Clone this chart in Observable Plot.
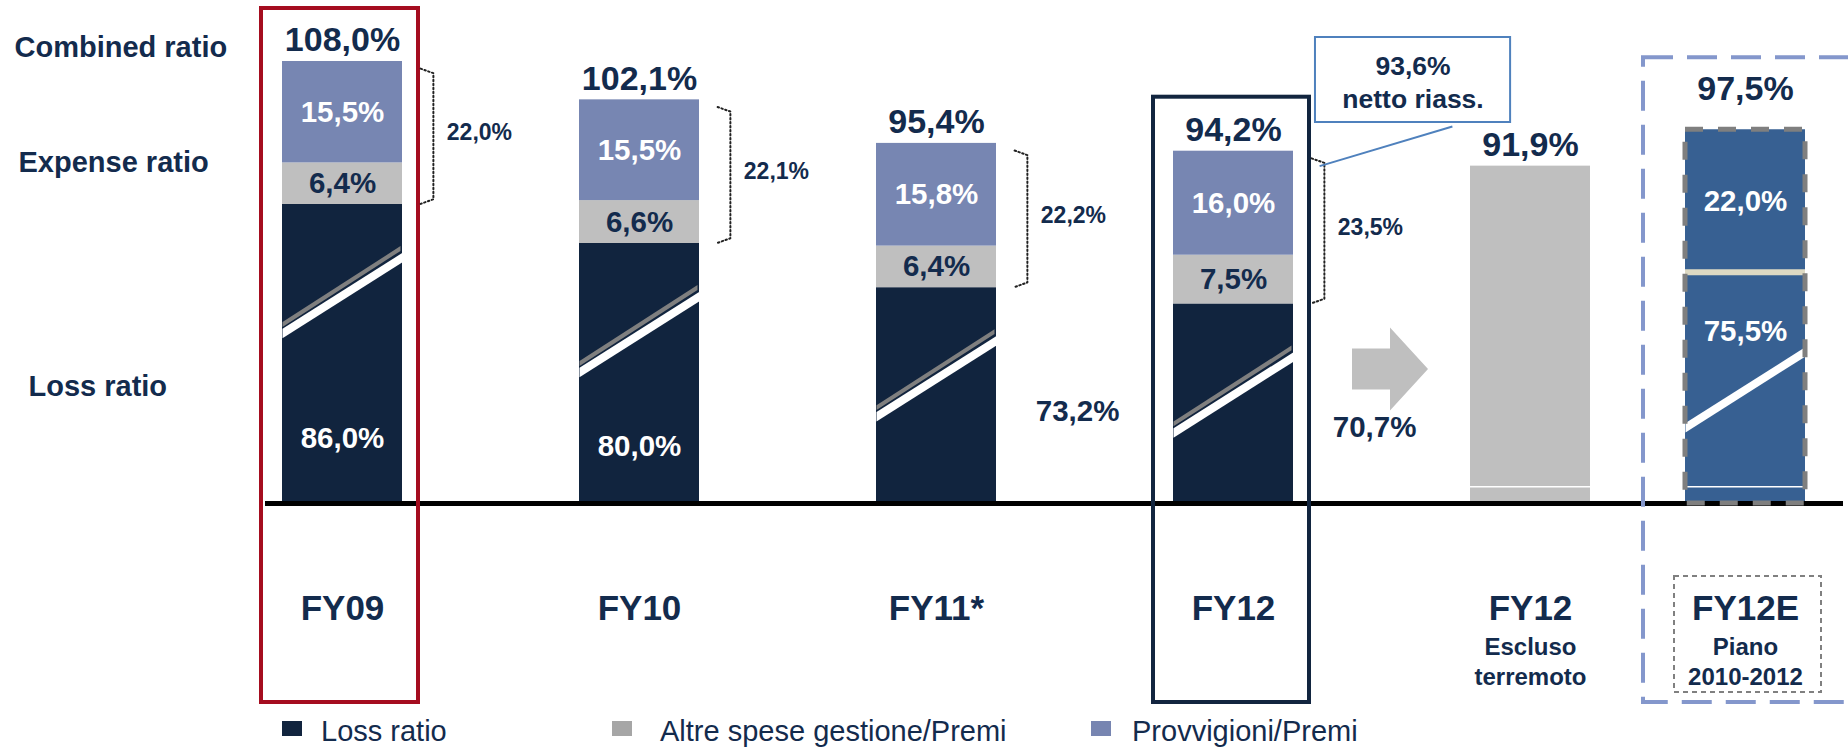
<!DOCTYPE html>
<html>
<head>
<meta charset="utf-8">
<script src="https://cdn.jsdelivr.net/npm/d3@7"></script>
<script src="https://cdn.jsdelivr.net/npm/@observablehq/plot@0.6"></script>
<style>
  html, body { margin: 0; padding: 0; background: #fff; overflow: hidden; }
  #chart { width: 1848px; height: 748px; position: relative; font-family: "Liberation Sans", Arial, sans-serif; }
  #chart svg { display: block; }
  .legend { position: relative; width: 1848px; height: 34px; }
  .legend .sw { position: absolute; top: 7px; width: 20px; height: 15px; }
  .legend .lb { position: absolute; top: 3px; font-size: 29px; line-height: 29px; color: #132b4d; white-space: nowrap; }
</style>
</head>
<body>
<div id="chart"></div>
<script>
// ---------------- data ----------------
const categories    = ["FY09", "FY10", "FY11*", "FY12", "FY12", "FY12E"];
const subtitles     = ["", "", "", "", "Escluso\nterremoto", "Piano\n2010-2012"];
const lossRatio     = [86.0, 80.0, 73.2, 70.7, null, 75.5];
const altreSpese    = [6.4, 6.6, 6.4, 7.5, null, null];
const provvigioni   = [15.5, 15.5, 15.8, 16.0, null, null];
const expenseRatio  = [22.0, 22.1, 22.2, 23.5, null, 22.0];
const combinedRatio = [108.0, 102.1, 95.4, 94.2, 91.9, 97.5];
const nettoRiass    = 93.6;
const rowLabels     = ["Combined ratio", "Expense ratio", "Loss ratio"];
const seriesNames   = ["Loss ratio", "Altre spese gestione/Premi", "Provvigioni/Premi", "Escluso terremoto", "Piano 2010-2012"];

// ---------------- styles ----------------
const NAVY = "#11243e", GRAYBAR = "#bfbfbf", LAV = "#7786b2", PLAN = "#376092", TXT = "#132b4d";
const seriesColors = [NAVY, GRAYBAR, LAV, GRAYBAR, PLAN];
const legendColors = [NAVY, "#a6a6a6", "#7785b1"];
const FONT = "Liberation Sans, Arial, sans-serif";
const HALFPX = 60; // half bar width in pixels
const fmt = v => v.toFixed(1).replace(".", ",") + "%";

const rows = categories.map((c, i) => ({
  i, cat: c, sub: subtitles[i], loss: lossRatio[i], altre: altreSpese[i],
  prov: provvigioni[i], exp: expenseRatio[i], comb: combinedRatio[i]
}));
const stacked = rows.filter(r => r.altre != null);
const plan = rows.filter(r => r.altre == null && r.loss != null);
const noLoss = rows.filter(r => r.loss == null);

const segs = [];
for (const r of stacked) {
  segs.push({i: r.i, y1: 0, y2: r.loss, series: seriesNames[0]});
  segs.push({i: r.i, y1: r.loss, y2: r.loss + r.altre, series: seriesNames[1]});
  segs.push({i: r.i, y1: r.loss + r.altre, y2: r.comb, series: seriesNames[2]});
}
for (const r of noLoss) segs.push({i: r.i, y1: 0, y2: r.comb, series: seriesNames[3]});
for (const r of plan) {
  segs.push({i: r.i, y1: 0, y2: r.loss, series: seriesNames[4]});
  segs.push({i: r.i, y1: r.loss, y2: r.comb, series: seriesNames[4]});
}

// dotted brackets over the expense part
const brackets = [];
for (const r of stacked) {
  brackets.push({i: r.i, x: r.i + 0.263, y: r.comb - 1.1});
  brackets.push({i: r.i, x: r.i + 0.306, y: r.comb - 1.8});
  brackets.push({i: r.i, x: r.i + 0.306, y: r.loss + 0.8});
  brackets.push({i: r.i, x: r.i + 0.263, y: r.loss + 0.1});
}

// custom symbols (pixel geometry)
const arrowSymbol = {draw(c) {
  c.moveTo(-30, -20.5); c.lineTo(8, -20.5); c.lineTo(8, -41.5); c.lineTo(46, 0);
  c.lineTo(8, 41.5); c.lineTo(8, 20.5); c.lineTo(-30, 20.5); c.closePath();
}};
const whiteSlash = {draw(c) {
  c.moveTo(-60, 33.3); c.lineTo(60, -42.7); c.lineTo(60, -33.3); c.lineTo(-60, 42.7); c.closePath();
}};
const graySlash = {draw(c) {
  c.moveTo(-60, 26.6); c.lineTo(58, -49.4); c.lineTo(58, -44.6); c.lineTo(-60, 31.4); c.closePath();
}};

const bar = {x1: "i", x2: "i", insetLeft: -HALFPX, insetRight: -HALFPX};
const bold = {fontFamily: FONT, fontWeight: "bold"};
const fy09 = rows[0], fy12 = rows[3];

const chart = Plot.plot({
  width: 1848,
  height: 714,
  marginLeft: 265,
  marginRight: 5,
  marginTop: 0,
  marginBottom: 211,
  x: {type: "linear", domain: [0, 4, 5], range: [342, 1530, 1745], axis: null},
  y: {type: "linear", domain: [0, 50, 110], range: [503, 438, 48], axis: null},
  color: {domain: seriesNames, range: seriesColors},
  style: {fontFamily: FONT, background: "white", overflow: "visible"},
  marks: [
    // bars
    Plot.rect(segs, {...bar, y1: "y1", y2: "y2", fill: "series"}),
    Plot.rect(plan, {...bar, y1: "loss", y2: "loss", insetTop: -3, insetBottom: -3, fill: "#ddd9c3"}),
    Plot.rect(rows.filter(r => r.altre == null), {...bar, y1: 0, y2: 0, insetTop: -17, insetBottom: 15.5, fill: "white"}),
    // axis breaks
    Plot.dot(stacked, {x: "i", y: d => d.loss - 14, symbol: graySlash, r: 10, fill: "#7f7f7f", stroke: "none"}),
    Plot.dot(stacked, {x: "i", y: d => d.loss - 14, symbol: whiteSlash, r: 10, fill: "white", stroke: "none"}),
    Plot.dot(plan, {x: "i", y: d => d.loss - 18, symbol: whiteSlash, r: 10, fill: "white", stroke: "none"}),
    // baseline
    Plot.ruleY([0], {stroke: "black", strokeWidth: 5}),
    // plan bar dashed border
    Plot.rect(plan, {...bar, y1: 0, y2: "comb", fill: "none", stroke: "#7f7f7f", strokeWidth: 5, strokeDasharray: "18,15"}),
    // highlight boxes
    Plot.rect([fy09], {x1: "i", x2: "i", y1: 0, y2: "comb", insetLeft: -81, insetRight: -76, insetTop: -53, insetBottom: -199, fill: "none", stroke: "#a50d1f", strokeWidth: 4}),
    Plot.rect([fy12], {x1: "i", x2: "i", y1: 0, y2: "comb", insetLeft: -80, insetRight: -76, insetTop: -54, insetBottom: -199, fill: "none", stroke: "#12253f", strokeWidth: 4}),
    Plot.rect(plan, {x1: "i", x2: "i", y1: 0, y2: "comb", insetLeft: -102, insetRight: -160, insetTop: -72, insetBottom: -199, fill: "none", stroke: "#8497cc", strokeWidth: 4, strokeDasharray: "30,14"}),
    Plot.rect(plan, {x1: "i", x2: "i", y1: 0, y2: 0, insetLeft: -71, insetRight: -76, insetTop: 73, insetBottom: -189, fill: "none", stroke: "#808080", strokeWidth: 2, strokeDasharray: "5,4"}),
    // brackets
    Plot.line(brackets, {x: "x", y: "y", z: "i", stroke: "#222", strokeWidth: 2, strokeDasharray: "1.5,2.5"}),
    // arrow
    Plot.dot([fy12], {x: d => d.i + 0.5, y: d => d.loss - 10, symbol: arrowSymbol, r: 10, fill: GRAYBAR, stroke: "none"}),
    // callout
    Plot.rect([fy12], {x1: d => d.i + 0.276, x2: d => d.i + 0.933, insetTop: 37, insetBottom: 381, fill: "white", stroke: "#4f81bd", strokeWidth: 2}),
    Plot.text([fy12], {x: d => d.i + 0.6045, frameAnchor: "top", lineAnchor: "middle", dy: 80, text: () => fmt(nettoRiass) + "\nnetto riass.", lineHeight: 1.25, fontSize: 26.5, fill: TXT, ...bold}),
    Plot.link([fy12], {x1: d => d.i + 0.29, y1: d => d.comb - 2.3, x2: d => d.i + 0.737, y2: d => d.comb + 3.8, stroke: "#4f81bd", strokeWidth: 2}),
    // combined labels
    Plot.text(rows.filter(r => r.altre != null || r.loss == null), {x: "i", y: "comb", text: d => fmt(d.comb), dy: -21, fontSize: 34, fill: TXT, ...bold}),
    Plot.text(plan, {x: "i", y: "comb", text: d => fmt(d.comb), dy: -41, fontSize: 34, fill: TXT, ...bold}),
    // segment labels
    Plot.text(stacked, {x: "i", y: d => d.loss + d.altre + d.prov / 2, text: d => fmt(d.prov), fontSize: 29.5, fill: "white", ...bold}),
    Plot.text(stacked, {x: "i", y: d => d.loss + d.altre / 2, text: d => fmt(d.altre), fontSize: 29.5, fill: TXT, ...bold}),
    Plot.text(stacked.filter(r => r.loss >= 80), {x: "i", y: d => d.loss - 36, text: d => fmt(d.loss), fontSize: 29.5, fill: "white", ...bold}),
    Plot.text(stacked.filter(r => r.loss < 80), {x: d => d.i + 0.475, y: d => d.loss - 19, text: d => fmt(d.loss), fontSize: 29.5, fill: TXT, ...bold}),
    Plot.text(plan, {x: "i", y: d => (d.loss + d.comb) / 2, text: d => fmt(d.exp), fontSize: 29.5, fill: "white", ...bold}),
    Plot.text(plan, {x: "i", y: d => d.loss - 9, text: d => fmt(d.loss), fontSize: 29.5, fill: "white", ...bold}),
    // expense ratio labels next to brackets
    Plot.text(stacked, {x: d => d.i + 0.461, y: d => (d.loss + d.comb) / 2, text: d => fmt(d.exp), fontSize: 23, fill: TXT, ...bold}),
    // category labels
    Plot.text(rows, {x: "i", frameAnchor: "bottom", lineAnchor: "middle", dy: 105, text: "cat", fontSize: 35, fill: TXT, ...bold}),
    Plot.text(rows.filter(r => r.sub), {x: "i", frameAnchor: "bottom", lineAnchor: "middle", dy: 157, text: "sub", lineHeight: 1.27, fontSize: 24, fill: TXT, ...bold}),
    // row labels
    Plot.text([fy09], {frameAnchor: "left", y: "comb", dy: -14, dx: -251, textAnchor: "start", text: () => rowLabels[0], fontSize: 29, fill: TXT, ...bold}),
    Plot.text([fy09], {frameAnchor: "left", y: d => d.loss + d.altre, dx: -247, textAnchor: "start", text: () => rowLabels[1], fontSize: 29, fill: TXT, ...bold}),
    Plot.text([fy09], {frameAnchor: "left", y: d => d.loss - 28, dx: -237, textAnchor: "start", text: () => rowLabels[2], fontSize: 29, fill: TXT, ...bold})
  ]
});

const root = document.getElementById("chart");
root.appendChild(chart);

// legend
const legend = document.createElement("div");
legend.className = "legend";
const swX = [282, 612, 1091], lbX = [321, 660, 1132];
seriesNames.slice(0, 3).forEach((name, k) => {
  const sw = document.createElement("div");
  sw.className = "sw"; sw.style.left = swX[k] + "px"; sw.style.background = legendColors[k];
  const lb = document.createElement("div");
  lb.className = "lb"; lb.style.left = lbX[k] + "px"; lb.textContent = name;
  legend.appendChild(sw); legend.appendChild(lb);
});
root.appendChild(legend);
</script>
</body>
</html>
